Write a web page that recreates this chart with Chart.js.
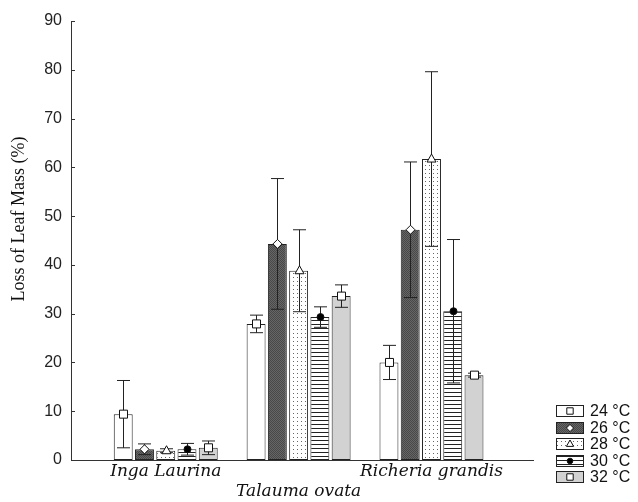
<!DOCTYPE html>
<html>
<head>
<meta charset="utf-8">
<script src="https://cdn.jsdelivr.net/npm/chart.js@4"></script>
<style>
  html, body { margin: 0; padding: 0; background: #fff; }
  #wrap { width: 638px; height: 502px; }
</style>
</head>
<body>
<div id="wrap"><canvas id="leafChart" width="638" height="502"></canvas></div>
<script>
// Leaf mass loss by species and temperature

const categories = ['Inga Laurina', 'Talauma ovata', 'Richeria grandis'];
const seriesLabels = ['24 °C', '26 °C', '28 °C', '30 °C', '32 °C'];

// mean loss (%) per species
const loss24 = [9.4, 27.9, 20.0];
const loss26 = [2.2, 44.3, 47.2];
const loss28 = [1.9, 38.8, 61.7];
const loss30 = [2.2, 29.3, 30.5];
const loss32 = [2.5, 33.6, 17.4];

// error bar half-lengths
const err24 = [6.9, 1.8, 3.5];
const err26 = [1.1, 13.4, 13.9];
const err28 = [0.4, 8.4, 17.9];
const err30 = [1.2, 2.1, 14.7];
const err32 = [1.4, 2.3, 0.4];

const yMin = 0;
const yMax = 90;
const yStep = 10;

const allLoss = [loss24, loss26, loss28, loss30, loss32];
const allErr = [err24, err26, err28, err30, err32];
const markers = ['square', 'diamond', 'triangle', 'dot', 'square'];

/**
 * Small tiled fills for the bars
 */
function makePattern(kind) {
    const c = document.createElement('canvas');
    const g = c.getContext('2d');
    if (kind === 'white') {
        c.width = c.height = 2;
        g.fillStyle = '#fff';
        g.fillRect(0, 0, 2, 2);
    } else if (kind === 'dark') {
        c.width = c.height = 2;
        g.fillStyle = '#666';
        g.fillRect(0, 0, 2, 2);
        g.fillStyle = '#484848';
        g.fillRect(0, 0, 1, 1);
        g.fillRect(1, 1, 1, 1);
    } else if (kind === 'dots') {
        c.width = 4; c.height = 4;
        g.fillStyle = '#fff';
        g.fillRect(0, 0, 4, 4);
        g.fillStyle = '#666';
        g.fillRect(1, 1, 1, 1);
    } else if (kind === 'lines') {
        c.width = 2; c.height = 4;
        g.fillStyle = '#fff';
        g.fillRect(0, 0, 2, 4);
        g.fillStyle = '#222';
        g.fillRect(0, 0, 2, 1);
    } else {
        c.width = c.height = 2;
        g.fillStyle = '#d2d2d2';
        g.fillRect(0, 0, 2, 2);
    }
    return g.createPattern(c, 'repeat');
}

const fills = ['white', 'dark', 'dots', 'lines', 'light'].map(makePattern);

function drawMarker(ctx, kind, x, y, s) {
    s = s || 1;
    ctx.save();
    ctx.lineWidth = 1;
    ctx.strokeStyle = '#111';
    ctx.fillStyle = '#fff';
    ctx.beginPath();
    if (kind === 'square') {
        ctx.rect(x - 4 * s, y - 4 * s, 8 * s, 8 * s);
    } else if (kind === 'diamond') {
        ctx.moveTo(x, y - 4.5 * s);
        ctx.lineTo(x + 4.5 * s, y);
        ctx.lineTo(x, y + 4.5 * s);
        ctx.lineTo(x - 4.5 * s, y);
        ctx.closePath();
    } else if (kind === 'triangle') {
        ctx.moveTo(x, y - 5 * s);
        ctx.lineTo(x + 4.5 * s, y + 3 * s);
        ctx.lineTo(x - 4.5 * s, y + 3 * s);
        ctx.closePath();
    } else {
        ctx.arc(x, y, 3.5 * s, 0, Math.PI * 2);
        ctx.fillStyle = '#000';
    }
    ctx.fill();
    ctx.stroke();
    ctx.restore();
}

// error bars + mean markers on top of each bar
const errorBarPlugin = {
    id: 'errorBars',
    afterDatasetsDraw(chart) {
        const ctx = chart.ctx;
        const yScale = chart.scales.y;
        chart.data.datasets.forEach((ds, di) => {
            const meta = chart.getDatasetMeta(di);
            meta.data.forEach((bar, i) => {
                const v = allLoss[di][i];
                const e = allErr[di][i];
                const x = Math.round(bar.x) + 0.5;
                const top = yScale.getPixelForValue(v + e);
                const bot = yScale.getPixelForValue(Math.max(v - e, 0));
                ctx.save();
                ctx.strokeStyle = '#222';
                ctx.lineWidth = 1;
                ctx.beginPath();
                ctx.moveTo(x, top);
                ctx.lineTo(x, bot);
                ctx.moveTo(x - 6.5, top);
                ctx.lineTo(x + 6.5, top);
                ctx.moveTo(x - 6.5, bot);
                ctx.lineTo(x + 6.5, bot);
                ctx.stroke();
                ctx.restore();
                drawMarker(ctx, markers[di], x, yScale.getPixelForValue(v));
            });
        });
    },
    afterDraw(chart) {
        const ctx = chart.ctx;
        const yScale = chart.scales.y;
        const left = chart.chartArea.left;

        // inward tick marks on the value axis
        ctx.save();
        ctx.strokeStyle = '#333';
        ctx.lineWidth = 1;
        ctx.beginPath();
        yScale.ticks.forEach(t => {
            const py = Math.round(yScale.getPixelForValue(t.value)) + 0.5;
            ctx.moveTo(left, py);
            ctx.lineTo(left + 4, py);
        });
        ctx.stroke();

        // axis title
        ctx.translate(19, 219);
        ctx.rotate(-Math.PI / 2);
        ctx.font = '18px "Liberation Serif", serif';
        ctx.fillStyle = '#111';
        ctx.textAlign = 'center';
        ctx.textBaseline = 'middle';
        ctx.fillText('Loss of Leaf Mass (%)', 0, 0);
        ctx.restore();

        // legend, bottom right
        ctx.save();
        ctx.font = '16px "Liberation Sans", Arial, sans-serif';
        ctx.textBaseline = 'middle';
        seriesLabels.forEach((label, i) => {
            const cy = Math.round(411 + i * 16.6);
            ctx.fillStyle = fills[i];
            ctx.fillRect(556.5, cy - 5.5, 27, 11);
            ctx.strokeStyle = '#222';
            ctx.lineWidth = 1;
            ctx.strokeRect(556.5, cy - 5.5, 27, 11);
            drawMarker(ctx, markers[i], 570, cy, 0.8);
            ctx.fillStyle = '#111';
            ctx.fillText(label, 590, cy + 1);
        });
        ctx.restore();
    }
};

const datasets = seriesLabels.map((label, i) => ({
    label: label,
    data: allLoss[i].map((v, j) => ({ x: j + 1, y: v })),
    backgroundColor: fills[i],
    borderColor: '#222',
    borderWidth: 1,
    borderSkipped: false,
    categoryPercentage: 0.8,
    barPercentage: 0.89
}));

new Chart(document.getElementById('leafChart'), {
    type: 'bar',
    data: { datasets: datasets },
    options: {
        responsive: false,
        animation: false,
        layout: {
            padding: { top: 21, right: 105, bottom: 0, left: 0 }
        },
        plugins: {
            legend: { display: false },
            tooltip: { enabled: false }
        },
        scales: {
            x: {
                type: 'linear',
                min: 0.287,
                max: 3.764,
                offset: false,
                grid: { display: false, drawTicks: false, offset: false },
                border: { display: true, color: '#333', width: 1 },
                afterBuildTicks: axis => {
                    axis.ticks = categories.map((c, i) => ({ value: i + 1 }));
                },
                afterFit: axis => { axis.height = 42; },
                ticks: {
                    autoSkip: false,
                    maxRotation: 0,
                    padding: 1,
                    color: '#111',
                    font: { family: '"DejaVu Serif", serif', size: 17, style: 'italic', lineHeight: 1.2 },
                    callback: (value) => {
                        const name = categories[value - 1];
                        return value === 2 ? ['', name] : name;
                    }
                }
            },
            y: {
                min: yMin,
                max: yMax,
                grid: { display: false, drawTicks: false },
                border: { display: true, color: '#333', width: 1 },
                afterFit: axis => { axis.width = 71; },
                ticks: {
                    stepSize: yStep,
                    padding: 9,
                    color: '#222',
                    font: { family: '"Liberation Sans", Arial, sans-serif', size: 16 }
                }
            }
        }
    },
    plugins: [errorBarPlugin]
});
</script>
</body>
</html>
